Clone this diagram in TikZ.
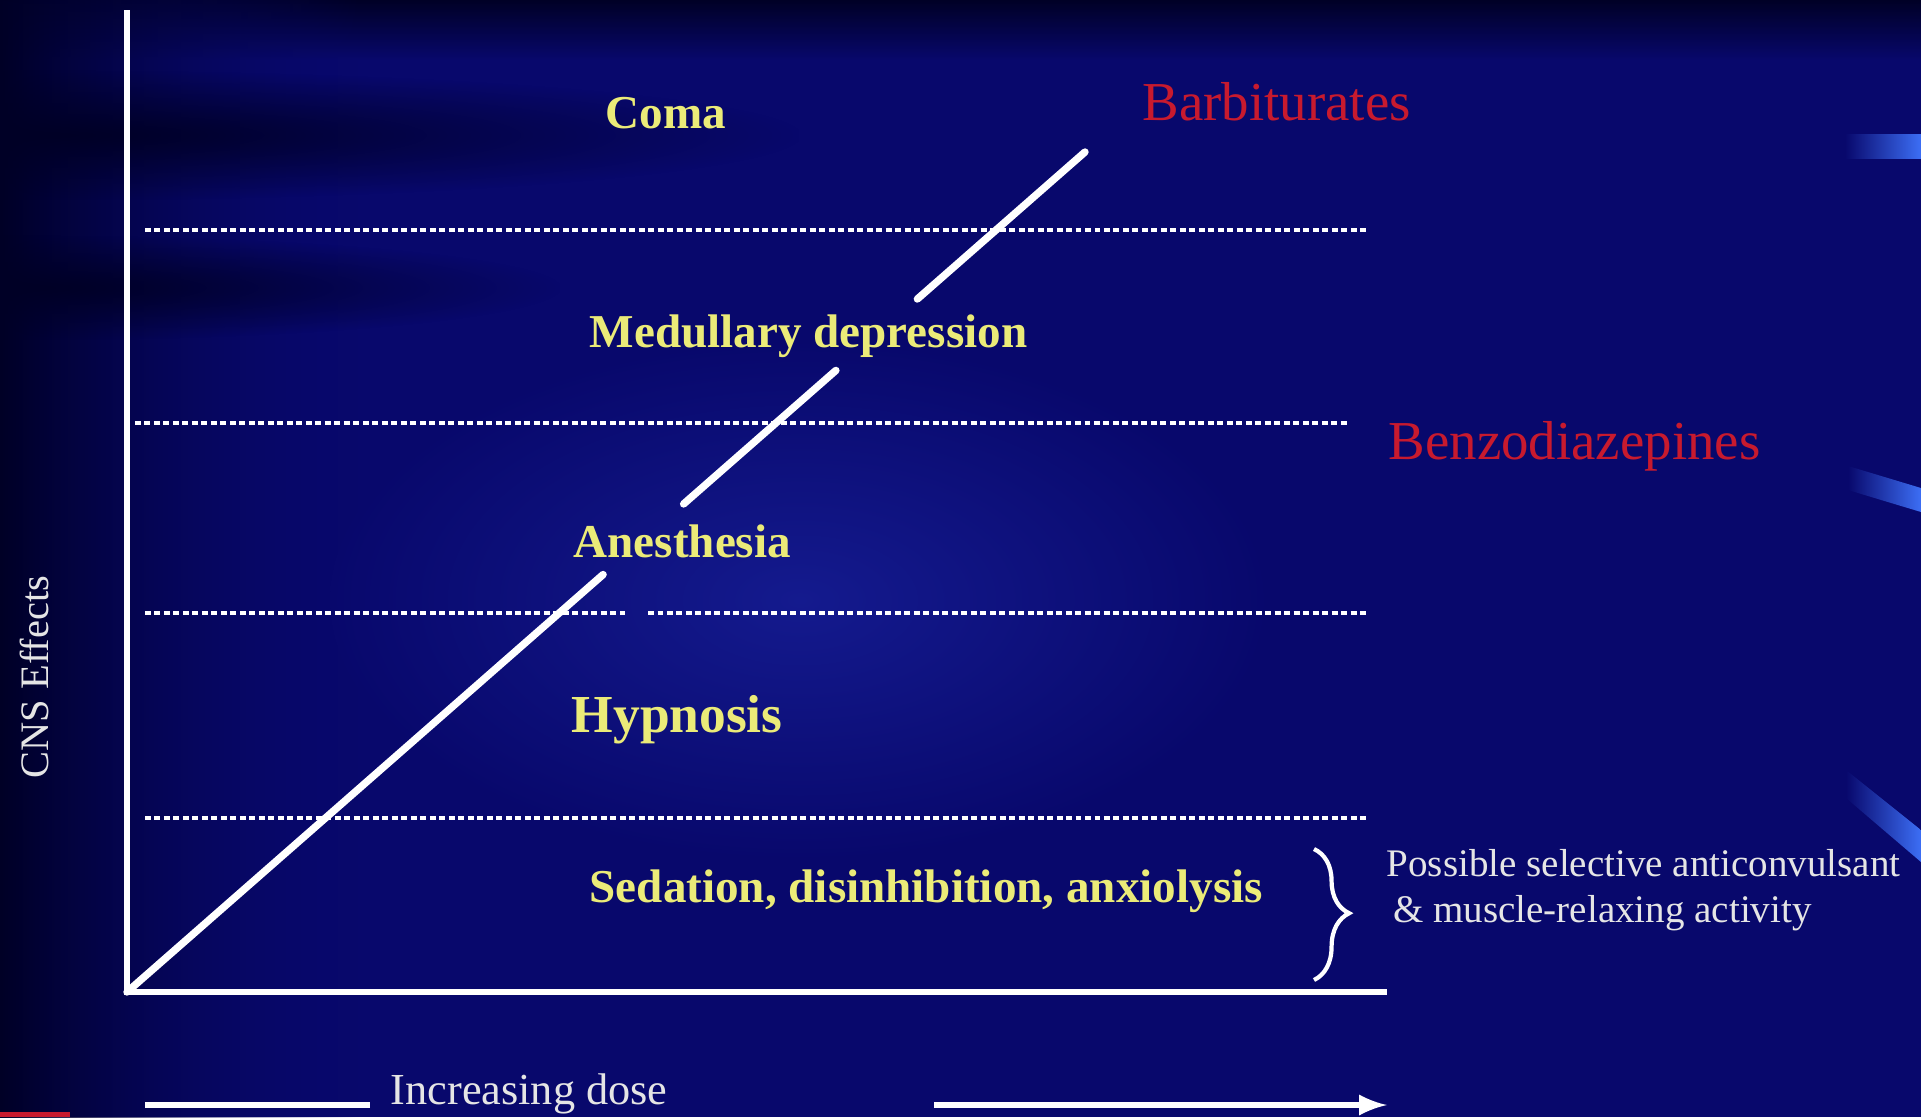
\documentclass[tikz,border=0pt]{standalone}
\usepackage{fontspec}
\setmainfont{Liberation Serif}
\usetikzlibrary{calc}
\usetikzlibrary{arrows,arrows.meta}
\usetikzlibrary{decorations.pathreplacing}
\usetikzlibrary{fadings}
\tikzset{>=latex}
\definecolor{navy}{RGB}{8,8,108}
\definecolor{deepnavy}{RGB}{0,0,38}
\definecolor{glow}{RGB}{20,26,142}
\definecolor{zone}{RGB}{235,235,120}
\definecolor{drug}{RGB}{200,26,46}
\definecolor{streak}{RGB}{60,110,245}
\tikzfading[name=bandfade, inner color=transparent!0, outer color=transparent!100]
\tikzstyle{axis} = [line width = 1.5, color = white]
\tikzstyle{curve} = [line width = 2.1, color = white, line cap = round]
\tikzstyle{level} = [%
					line width = 1.3,
					color = white,
					dash pattern = on 1.7pt off 1pt]
\tikzstyle{band} = [fill = deepnavy, path fading = bandfade]
\tikzstyle{zonelabel} = [text = zone, font = \fontsize{13.4}{16}\selectfont\bfseries, anchor = west, inner sep = 0pt]
\tikzstyle{druglabel} = [text = drug, font = \fontsize{15.6}{18}\selectfont, anchor = west, inner sep = 0pt]

\begin{document}
\begin{tikzpicture}[x=0.01cm, y=-0.01cm, plain/.style={text=white!90!black, inner sep=0pt}]

	% Background
	\clip (0,0) rectangle (1921,1117);
	\fill[navy] (0,0) rectangle (1921,1117);
	\shade[top color=deepnavy, bottom color=navy] (0,0) rectangle (1921,60);
	\shade[left color=deepnavy, right color=navy, path fading=east] (0,0) rectangle (360,1117);
	\shade[inner color=glow, outer color=navy] (800,600) ellipse (470 and 260);
	\fill[band] (-700,70) rectangle (800,200);
	\fill[band] (-500,235) rectangle (560,340);
	\shade[left color=navy, right color=streak] (1845,134) rectangle (1921,158);
	\shade[left color=navy, right color=streak] (1848,466) -- (1921,488) -- (1921,512) -- (1848,490) -- cycle;
	\shade[left color=navy, right color=streak] (1846,770) -- (1921,830) -- (1921,862) -- (1846,798) -- cycle;
	\fill[drug] (0,1112) rectangle (70,1117);

	% Coordinates
	\coordinate (O) at (127,992);
	\coordinate (ytop) at (127,10);
	\coordinate (xend) at (1387,992);
	\coordinate (B) at (1085,152);
	\coordinate (doseA) at (145,1105);
	\coordinate (doseB) at (370,1105);
	\coordinate (doseC) at (934,1105);
	\coordinate (doseD) at (1387,1105);

	% Levels
	\draw[level] (145,230) -- (1366,230);
	\draw[level] (135,423) -- (1348,423);
	\draw[level] (145,613) -- (625,613);
	\draw[level] (648,613) -- (1366,613);
	\draw[level] (145,818) -- (1366,818);

	% Axes
	\draw[axis] (ytop) -- (O) -- (xend);

	% Dose line
	\draw[curve] (O) -- ($(O)!0.497!(B)$);
	\draw[curve] ($(O)!0.581!(B)$) -- ($(O)!0.740!(B)$);
	\draw[curve] ($(O)!0.825!(B)$) -- (B);

	% Nodes
	\node[zonelabel] (coma) at (605,113) {Coma};
	\node[zonelabel] (medulla) at (589,336) {Medullary depression};
	\node[zonelabel] (anesth) at (573,541) {Anesthesia};
	\node[zonelabel, font=\fontsize{15.2}{18}\selectfont\bfseries] (hypno) at (571,720) {Hypnosis};
	\node[zonelabel] (sedat) at (589,891) {Sedation, disinhibition, anxiolysis};
	\node[druglabel] (barb) at (1142,102) {Barbiturates};
	\node[druglabel] (benzo) at (1388,446) {Benzodiazepines};
	\node[plain, anchor=west, align=left, font=\fontsize{11.1}{13.1}\selectfont] (note) at (1386,890) {Possible selective anticonvulsant\\\,\& muscle-relaxing activity};
	\node[plain, rotate=90, font=\fontsize{11.5}{14}\selectfont] (cns) at (34,677) {CNS Effects};
	\node[plain, anchor=west, font=\fontsize{12.6}{15}\selectfont] (dose) at (390,1094) {Increasing dose};

	% Brace
	\draw[white, line width=1.2, decorate, decoration={brace, amplitude=10pt, aspect=0.49}] (1314,849) -- (1314,980);

	% Increasing dose arrow
	\draw[white, line width=1.7] (doseA) -- (doseB);
	\draw[white, line width=1.7, ->] (doseC) -- (doseD);

\end{tikzpicture}
\end{document}
